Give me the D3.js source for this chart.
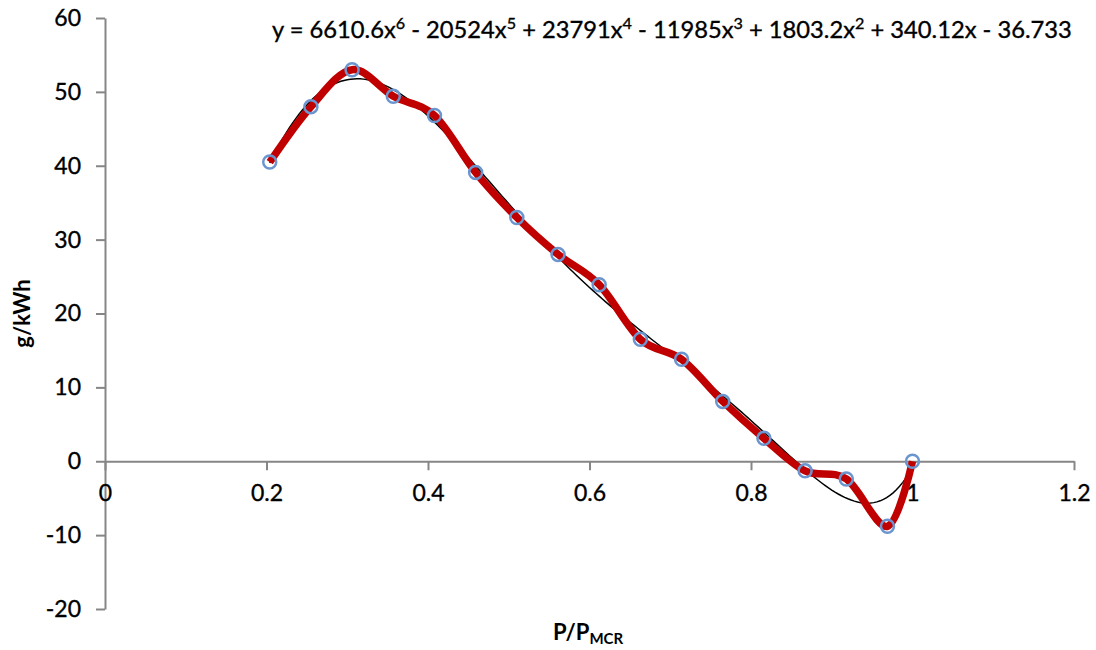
<!DOCTYPE html>
<html>
<head>
<meta charset="utf-8">
<script src="https://cdn.jsdelivr.net/npm/d3@7"></script>
<style>
  body { margin: 0; background: #fff; }
  svg text { font-family: Lato, "Open Sans", sans-serif; fill: #000; }
  .heavy { stroke: #000; stroke-width: 0.35px; }
</style>
</head>
<body>
<svg id="chart" width="1096" height="650"></svg>
<script>
// measured points (P/Pmcr, g/kWh)
const loadRatio = [0.204, 0.255, 0.306, 0.357, 0.408, 0.459, 0.510, 0.561, 0.612,
                   0.663, 0.714, 0.765, 0.816, 0.867, 0.918, 0.969, 1.0];
const emission = [40.5, 48.0, 53.0, 49.4, 46.8, 39.1, 33.0, 28.0, 23.9,
                  16.5, 13.8, 8.1, 3.1, -1.3, -2.4, -8.8, 0.0];
// 6th order trendline as printed on the chart (highest power first)
const trendCoef = [6610.6, -20524, 23791, -11985, 1803.2, 340.12, -36.733];
const xTicks = [0, 0.2, 0.4, 0.6, 0.8, 1, 1.2];
const yTicks = [-20, -10, 0, 10, 20, 30, 40, 50, 60];

const svg = d3.select("#chart");
const x = d3.scaleLinear().domain([0, 1.2]).range([105, 1074]);
const y = d3.scaleLinear().domain([-20, 60]).range([609, 18]);
const axisColor = "#868686";
const fmt = d => String(d); // plain hyphen minus like the original

// y axis
const yAxis = svg.append("g")
    .attr("transform", `translate(${x(0)},0)`)
    .call(d3.axisLeft(y).tickValues(yTicks).tickSize(9).tickPadding(15).tickSizeOuter(0).tickFormat(fmt));
yAxis.select(".domain").attr("stroke", axisColor).attr("stroke-width", 2);
yAxis.selectAll(".tick line").attr("stroke", axisColor).attr("stroke-width", 2);
yAxis.selectAll(".tick text").attr("font-size", 23).attr("fill", "#000").attr("class", "heavy")
    .style("font-family", "Lato, sans-serif");

// x axis crossing at y = 0
const xAxis = svg.append("g")
    .attr("transform", `translate(0,${y(0)})`)
    .call(d3.axisBottom(x).tickValues(xTicks).tickSize(9).tickPadding(14).tickSizeOuter(0).tickFormat(fmt));
xAxis.select(".domain").attr("stroke", axisColor).attr("stroke-width", 2);
xAxis.selectAll(".tick line").attr("stroke", axisColor).attr("stroke-width", 2);
xAxis.selectAll(".tick text").attr("font-size", 23).attr("fill", "#000").attr("class", "heavy")
    .style("font-family", "Lato, sans-serif");

// trendline
const poly = v => trendCoef.reduce((acc, c) => acc * v + c, 0);
const trendX = d3.range(loadRatio[0], 1.0001, 0.004);
svg.append("path")
    .datum(trendX)
    .attr("fill", "none")
    .attr("stroke", "#000")
    .attr("stroke-width", 1.5)
    .attr("d", d3.line().x(d => x(d)).y(d => y(poly(d))));

// smoothed series
const pts = loadRatio.map((v, i) => [v, emission[i]]);
svg.append("path")
    .datum(pts)
    .attr("fill", "none")
    .attr("stroke", "#c00000")
    .attr("stroke-width", 7.5)
    .attr("stroke-linejoin", "round")
    .attr("d", d3.line().x(d => x(d[0])).y(d => y(d[1])).curve(d3.curveCardinal.tension(0)));

svg.append("g").selectAll("circle")
    .data(pts)
    .enter()
    .append("circle")
    .attr("cx", d => x(d[0]))
    .attr("cy", d => y(d[1]))
    .attr("r", 6.5)
    .attr("fill", "none")
    .attr("stroke", "#6b95cf")
    .attr("stroke-width", 2.5);

// equation
const eq = svg.append("text").attr("x", 272).attr("y", 38).attr("font-size", 22).attr("class", "heavy");
const parts = [["y = 6610.6x", "6"], [" - 20524x", "5"], [" + 23791x", "4"], [" - 11985x", "3"],
               [" + 1803.2x", "2"], [" + 340.12x - 36.733", null]];
parts.forEach(([base, sup]) => {
  eq.append("tspan").text(base);
  if (sup) eq.append("tspan").attr("baseline-shift", "super").attr("font-size", 15).text(sup);
});
// stretch font so the equation spans the same width as the original
const eqW = eq.node().getComputedTextLength();
const k = 800 / eqW;
eq.attr("font-size", 22 * k);
eq.selectAll("tspan").filter(function() { return this.getAttribute("font-size"); })
    .attr("font-size", 15 * k);

// axis titles
svg.append("text")
    .attr("transform", `translate(30,${y(20)}) rotate(-90)`)
    .attr("text-anchor", "middle")
    .attr("font-size", 22)
    .attr("font-weight", "bold")
    .text("g/kWh");

const xt = svg.append("text")
    .attr("x", 588).attr("y", 640)
    .attr("text-anchor", "middle")
    .attr("font-size", 22)
    .attr("font-weight", "bold");
xt.append("tspan").text("P/P");
xt.append("tspan").attr("baseline-shift", "-25%").attr("font-size", 15).text("MCR");
</script>
</body>
</html>
